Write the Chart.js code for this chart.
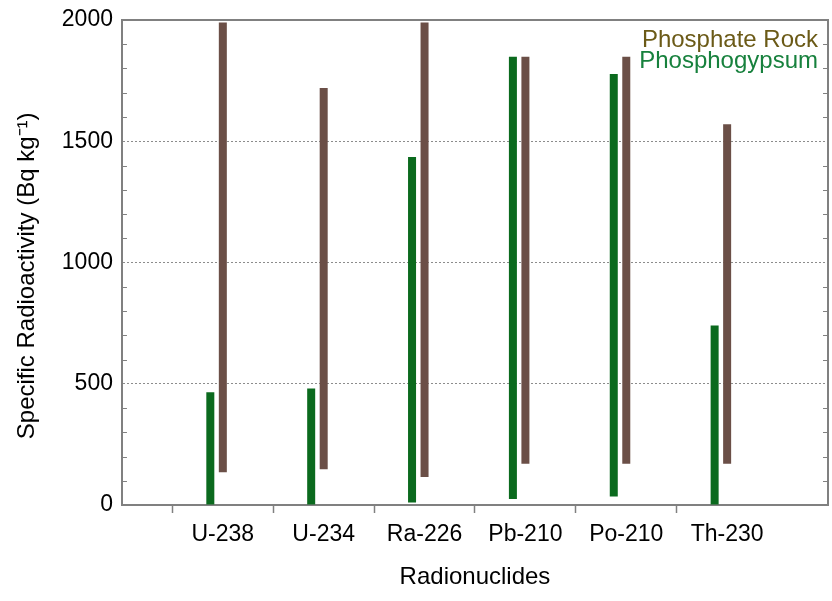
<!DOCTYPE html>
<html>
<head>
<meta charset="utf-8">
<script src="https://cdn.jsdelivr.net/npm/chart.js@4.4.1/dist/chart.umd.min.js"></script>
<style>
  html, body { margin: 0; padding: 0; background: #fff; overflow: hidden; }
  canvas { display: block; }
</style>
</head>
<body>
<canvas id="radioChart" width="832" height="601"></canvas>
<script>
const nuclides = ['U-238', 'U-234', 'Ra-226', 'Pb-210', 'Po-210', 'Th-230']
const gypsumLow = [0, 0, 10, 25, 35, 0]
const gypsumHigh = [465, 480, 1435, 1848, 1777, 740]
const rockLow = [135, 147, 115, 170, 170, 170]
const rockHigh = [1990, 1720, 1990, 1848, 1848, 1570]
const yLabels = [0, 500, 1000, 1500, 2000]

const FONT = '"Liberation Sans", Arial, sans-serif'
const AXIS = '#808080'

// one empty slot on each side, so the first category sits a full step from the axis
const labels = ['', ...nuclides, '']

function floating(lo, hi) {
  return [null, ...lo.map((v, i) => [v, hi[i]]), null]
}

const legendPlugin = {
  id: 'insideLegend',
  afterDraw(chart) {
    const { ctx, chartArea } = chart
    const items = chart.data.datasets.filter(d => d.legendColor).reverse()
    ctx.save()
    ctx.font = '24px ' + FONT
    ctx.textAlign = 'right'
    ctx.textBaseline = 'alphabetic'
    items.forEach((ds, i) => {
      ctx.fillStyle = ds.legendColor
      ctx.fillText(ds.label, chartArea.right - 10, chartArea.top + 27 + i * 21)
    })
    ctx.restore()
  }
}

// top/right frame plus the small inward minor ticks on both sides
const framePlugin = {
  id: 'frame',
  afterDraw(chart) {
    const { ctx, chartArea: a, scales: { y } } = chart
    ctx.save()
    ctx.strokeStyle = AXIS
    ctx.lineWidth = 2
    ctx.beginPath()
    ctx.moveTo(a.left, a.top)
    ctx.lineTo(a.right, a.top)
    ctx.lineTo(a.right, a.bottom)
    ctx.stroke()
    ctx.lineWidth = 1
    y.ticks.forEach(t => {
      if (yLabels.includes(t.value)) return
      const py = Math.round(y.getPixelForValue(t.value)) + 0.5
      ctx.beginPath()
      ctx.moveTo(a.left, py)
      ctx.lineTo(a.left + 5, py)
      ctx.moveTo(a.right, py)
      ctx.lineTo(a.right - 5, py)
      ctx.stroke()
    })
    ctx.restore()
  }
}

new Chart(document.getElementById('radioChart'), {
  type: 'bar',
  data: {
    labels: labels,
    datasets: [{
      label: 'Phosphogypsum',
      data: floating(gypsumLow, gypsumHigh),
      backgroundColor: '#0b6a1e',
      legendColor: '#17813d',
      borderWidth: 0
    }, {
      label: 'Phosphate Rock',
      data: floating(rockLow, rockHigh),
      backgroundColor: '#6b4f47',
      legendColor: '#6b5a17',
      borderWidth: 0
    }, {
      // empty spacer so the rock bar lands on the tick
      label: '',
      data: labels.map(() => null)
    }]
  },
  options: {
    responsive: false,
    animation: false,
    devicePixelRatio: 1,
    categoryPercentage: 0.372,
    barPercentage: 0.64,
    layout: { padding: { top: 20, right: 4, left: 0, bottom: 0 } },
    plugins: {
      legend: { display: false },
      tooltip: { enabled: false }
    },
    scales: {
      x: {
        offset: false,
        grid: {
          drawOnChartArea: false,
          drawTicks: true,
          tickLength: 12,
          tickWidth: 1.5,
          tickBorderDash: [7, 50],
          tickColor: c => (c.index === 0 || c.index === labels.length - 1) ? 'transparent' : AXIS
        },
        border: { color: AXIS, width: 2 },
        ticks: {
          autoSkip: false,
          maxRotation: 0,
          padding: 4,
          color: '#000',
          font: { family: FONT, size: 23 }
        },
        title: {
          display: true,
          text: 'Radionuclides',
          color: '#000',
          font: { family: FONT, size: 24 },
          padding: { top: 10.6, bottom: 9 }
        }
      },
      y: {
        min: 0,
        max: 2000,
        grid: {
          drawTicks: true,
          tickLength: 5,
          tickColor: 'transparent',
          lineWidth: 1,
          color: c => (c.tick && c.tick.value % 500 === 0 && c.tick.value > 0 && c.tick.value < 2000) ? '#8c8c8c' : 'transparent'
        },
        border: { color: AXIS, width: 2, dash: [2, 2] },
        ticks: {
          stepSize: 100,
          autoSkip: false,
          padding: 4,
          color: '#000',
          font: { family: FONT, size: 23 },
          callback: v => yLabels.includes(v) ? String(v) : ''
        },
        title: {
          display: true,
          // trailing spaces nudge the title a little below centre, as in the source
          text: 'Specific Radioactivity (Bq kg⁻¹)    ',
          color: '#000',
          font: { family: FONT, size: 24 },
          padding: { top: 12.6, bottom: 16.4 }
        }
      }
    }
  },
  plugins: [framePlugin, legendPlugin]
})
</script>
</body>
</html>
